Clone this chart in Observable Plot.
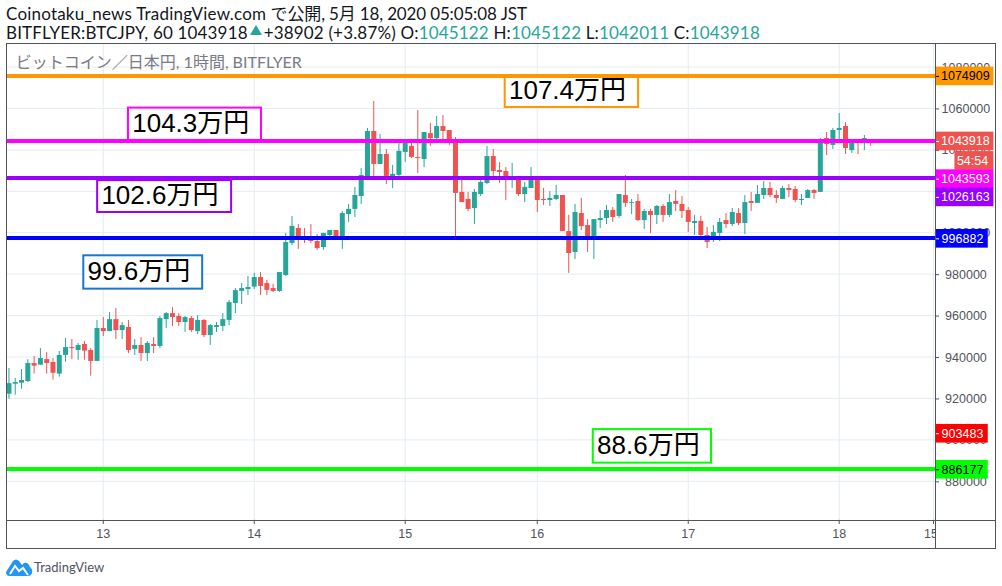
<!DOCTYPE html>
<html lang="ja"><head><meta charset="utf-8">
<script src="https://cdn.jsdelivr.net/npm/d3@7"></script>
<script src="https://cdn.jsdelivr.net/npm/@observablehq/plot@0.6"></script>
<style>
html,body{margin:0;padding:0;background:#fff;width:1002px;height:586px;overflow:hidden}
body{position:relative;font-family:Lato,"Noto Sans CJK JP",sans-serif;color:#131722}
#head{position:absolute;left:6px;top:0;height:43px;font-size:17px;line-height:19px;padding-top:4px;white-space:nowrap;box-sizing:border-box}
#head .v{color:#26a69a}
#head .l2{letter-spacing:.17px}
#head .tri{display:inline-block;width:0;height:0;border-left:6px solid transparent;border-right:6px solid transparent;border-bottom:10px solid #26a69a;margin:0 2px 4px 2px}
#chart{position:absolute;left:0;top:43px}
.chrome{position:absolute;background:#50535e}
#foot{position:absolute;left:6px;top:558px;display:flex;align-items:center;font-size:13px;color:#50535e;font-family:Lato,"Liberation Sans",sans-serif}
</style></head><body>
<div id="head"></div>
<div id="chart"></div>
<div class="chrome" style="left:6px;top:43px;width:990px;height:1px"></div>
<div class="chrome" style="left:6px;top:548px;width:990px;height:1px"></div>
<div class="chrome" style="left:6px;top:43px;width:1px;height:506px"></div>
<div class="chrome" style="left:995px;top:43px;width:1px;height:506px"></div>
<div class="chrome" style="left:935px;top:43px;width:1px;height:506px"></div>
<div class="chrome" style="left:6px;top:520px;width:990px;height:1px"></div>
<div id="foot"><svg width="27" height="18" viewBox="0 0 27 18" style="margin-right:1px"><path d="M0 14 L7 3 Q10 0 13 3 L16 7 Q18 4 21 5 Q23 6 24 9 Q27 11 26 15 Q25 18 22 18 L4 18 Q0 18 0 14 Z" fill="#2196f3"/><path d="M4 16 L9 8 L13 13 L17 10 L22 17" fill="none" stroke="#fff" stroke-width="2"/></svg><span id="brand"></span></div>
<script>
const publisherText = "Coinotaku_news TradingView.com";
const publishedText = "で公開, 5月 18, 2020 05:05:08 JST";
const symbolText = "BITFLYER:BTCJPY, 60 1043918";
const changeText = "+38902 (+3.87%)";
const ohlcLast = [["O:","1045122"],["H:","1045122"],["L:","1042011"],["C:","1043918"]];
const paneTitle = "ビットコイン／日本円, 1時間, BITFLYER";
const brandText = "TradingView";

const firstBar = -15;
// prices in thousands of yen, one per hourly bar
const highs = [934.7,929.9,934.2,939.0,940.5,944.3,942.4,939.5,942.9,949.2,948.7,946.8,947.7,944.3,957.9,
959.3,961.7,963.6,956.9,957.9,948.7,949.6,947.7,949.6,959.8,961.7,964.1,961.2,959.8,959.8,960.3,958.3,955.9,956.9,961.2,967.5,973.3,975.7,979.1,980.6,981.0,977.2,975.3,981.0,999.9,
1008.1,1004.2,1002.3,1004.2,999.4,999.9,1001.3,1001.3,1010.5,1013.9,1022.1,1031.2,1050.6,1063.6,1047.7,1040.4,1032.7,1044.8,1045.1,1044.8,1059.2,1048.6,1053.0,1056.4,1056.8,1049.6,1046.2,1025.5,1019.7,1021.1,1025.9,1041.9,1040.4,1034.1,1031.7,1033.7,1027.4,
1024.5,1031.7,1026.6,1021.6,1020.1,1023.0,1018.2,1008.6,1013.9,1016.8,1006.6,1006.6,1011.0,1013.4,1012.4,1018.7,1027.9,1016.3,1018.7,1011.5,1011.5,1013.4,1013.9,1018.7,1020.6,1017.7,1012.4,1008.6,1008.1,1002.8,1003.7,1007.1,1009.5,1011.9,1011.9,1018.2,1019.7,1023.0,1025.0,1024.5,1020.6,1022.6,1023.5,1022.6,1018.7,1021.1,1021.1,1045.7,1048.6,1050.6,1057.8,1053.4,1043.3,1043.8,1047.2,1045.1];
const lows = [919.9,921.8,924.7,927.9,932.0,936.1,932.0,929.1,930.5,937.7,939.0,938.7,938.7,931.0,938.1,
950.1,952.5,948.7,948.7,941.9,941.0,938.1,938.1,941.9,944.2,954.0,955.0,955.0,952.1,952.1,951.1,949.6,945.8,952.1,952.5,955.4,961.2,965.6,969.9,972.8,969.9,969.9,971.4,971.4,979.1,
994.1,992.2,995.0,995.0,991.7,991.7,997.5,997.5,992.2,1005.2,1007.6,1013.9,1026.4,1027.1,1033.2,1023.5,1021.6,1027.4,1034.2,1036.1,1028.8,1031.7,1041.9,1045.2,1044.8,1042.3,998.4,1014.8,1010.5,1004.2,1017.7,1023.5,1027.4,1024.0,1015.8,1021.6,1017.7,
1014.8,1021.6,1010.0,1013.4,1012.9,1015.8,1000.8,980.6,987.3,1001.3,990.7,987.3,1002.3,1004.2,1005.2,1007.1,1012.4,1009.0,1005.7,1001.8,999.9,1004.2,1005.2,1007.6,1010.5,1007.1,1000.4,998.9,998.4,992.6,995.5,996.0,1002.3,1003.2,1003.7,999.4,1010.5,1014.4,1016.3,1017.2,1014.4,1016.3,1017.2,1014.8,1013.4,1016.8,1016.3,1019.7,1037.5,1040.4,1044.8,1038.0,1038.5,1038.0,1039.9,1042.0];
const opens = [922.3,927.1,927.6,928.4,937.1,936.3,939.0,937.6,932.0,941.0,944.8,943.4,946.3,943.4,938.1,
954.0,952.5,958.3,953.0,954.5,943.9,945.8,941.9,946.3,945.3,958.3,961.2,959.8,956.9,958.8,952.5,957.9,950.6,954.5,955.0,957.9,966.1,971.9,972.8,974.0,978.6,975.7,973.3,971.9,979.6,
995.0,1002.3,997.9,996.5,996.0,993.1,998.9,1001.3,997.5,1009.0,1011.5,1017.7,1026.4,1049.1,1033.2,1038.0,1027.4,1027.9,1039.0,1041.9,1036.6,1035.6,1048.1,1045.7,1051.5,1049.6,1044.8,1019.7,1016.3,1011.9,1018.7,1024.0,1037.0,1030.3,1029.8,1026.4,1025.5,
1018.7,1021.6,1025.8,1016.3,1015.8,1016.3,1018.2,1000.8,990.7,1009.5,1003.7,998.4,1006.1,1007.1,1011.0,1008.1,1018.2,1014.4,1015.3,1006.1,1010.5,1008.6,1012.9,1008.6,1015.3,1013.9,1011.0,1004.7,1005.7,998.9,998.4,999.9,1006.1,1004.2,1009.5,1004.7,1015.3,1014.4,1018.2,1021.6,1018.2,1016.3,1021.6,1021.1,1015.8,1016.8,1020.6,1019.7,1045.7,1042.4,1049.6,1051.5,1039.9,1043.5,1044.8,1045.1];
const closes = [927.4,927.9,928.9,937.1,935.8,939.5,937.1,932.4,941.0,944.8,944.3,945.8,943.1,938.1,954.0,
952.5,958.3,953.0,955.4,943.4,945.8,941.9,946.8,945.3,958.8,961.2,959.3,956.9,959.3,953.0,957.9,950.6,955.4,955.4,958.3,966.5,972.3,973.3,973.8,978.6,974.3,972.4,971.9,981.0,995.5,
1003.3,998.4,997.5,996.0,992.6,999.9,1001.3,998.4,1009.5,1011.5,1018.2,1027.9,1049.1,1033.2,1038.0,1027.4,1028.4,1039.5,1044.8,1036.6,1036.1,1048.6,1045.7,1051.5,1049.1,1044.3,1019.2,1014.8,1011.5,1019.7,1024.5,1037.0,1029.8,1029.3,1027.4,1027.4,1018.7,
1022.1,1026.3,1015.8,1015.8,1016.8,1018.2,1000.8,990.2,1010.0,1003.2,998.4,1006.6,1007.1,1011.0,1007.6,1018.7,1014.4,1014.8,1006.1,1010.5,1008.6,1012.9,1008.6,1014.8,1013.9,1010.5,1005.2,1005.7,998.9,995.5,1000.4,1005.2,1004.2,1010.0,1004.7,1014.8,1014.4,1018.7,1021.6,1018.2,1016.8,1021.6,1020.6,1015.8,1016.3,1020.6,1019.2,1044.8,1042.8,1049.6,1050.6,1040.9,1043.3,1043.3,1045.7,1043.9];

const levelValues = [1075700, 1044300, 1026400, 997500, 885900];
const levelColors = ["#ff9800", "#ff00ff", "#9900ff", "#0000ff", "#00ff00"];

const noteTexts  = ["107.4万円", "104.3万円", "102.6万円", "99.6万円", "88.6万円"];
const noteColors = ["#ff9800", "#ff00ff", "#9900ff", "#1976d2", "#00ff00"];
const noteFrom   = [63.9, 4.0, -0.9, -3.1, 77.9];
const noteTo     = [85.1, 25.15, 20.4, 15.8, 96.7];
const noteTop    = [1075.7, 1060.4, 1025.4, 989.1, 905.2];
const noteBottom = [1060.7, 1044.8, 1010.0, 973.0, 889.0];

const priceTicks = [880000,900000,920000,940000,960000,980000,1000000,1020000,1040000,1060000,1080000];
const timeTicks  = [0,24,48,69,93,117];
const timeLabels = ["13","14","15","16","17","18"];
const boldLabel  = "18";
const extraTick  = 132;
const extraLabel = "15:00";
const extraLabelStart = 130.5;

const tagTexts  = ["1074909","1043918","54:54","1043593","1026163","996882","903483","886177"];
const tagFills  = ["#ff9800","#ef5350","#ef5350","#ff00ff","#9900ff","#0000ff","#ff0000","#00ff00"];
const tagInks   = ["#000","#fff","#fff","#fff","#fff","#fff","#fff","#000"];
const tagCenter = [1075.7,1044.3,1034.9,1026.1,1017.3,997.3,903.2,885.8];
const tagFrom   = [132.3,132.3,135.4,132.3,132.3,132.3,132.3,132.3];
const tagTo     = [141.6,141.6,141.6,141.6,141.6,140.7,140.7,140.7];

const candles = opens.map((o,k)=>({i:firstBar+k,open:o*1e3,close:closes[k]*1e3,high:highs[k]*1e3,low:lows[k]*1e3,
  color:closes[k]>=o?"#26a69a":"#ef5350"}));
const levels = levelValues.map((v,k)=>({v,c:levelColors[k]}));
const notes = noteTexts.map((t,k)=>({t,c:noteColors[k],x1:noteFrom[k],x2:noteTo[k],y1:noteTop[k]*1e3,y2:noteBottom[k]*1e3}));
const tags = tagTexts.map((t,k)=>({t,fill:tagFills[k],ink:tagInks[k],y:tagCenter[k]*1e3,x1:tagFrom[k],x2:tagTo[k]}));
const times = timeTicks.map((t,k)=>({t,label:timeLabels[k]}));
const allTimeTicks = timeTicks.concat(extraTick);
const font = 'Lato,"Noto Sans CJK JP",sans-serif';
const noteFont = '"Liberation Sans","Noto Sans CJK JP",sans-serif';
const narrow = '"Liberation Sans Narrow","Liberation Sans",sans-serif';
const tagHalf = 4500;
const axisInk = "#50535e";

const head = document.getElementById("head");
head.innerHTML = `<div><span style="letter-spacing:.2px">${publisherText}</span> <span style="letter-spacing:-.15px">${publishedText}</span></div><div class="l2">${symbolText}<span class="tri"></span>${changeText} `+
  ohlcLast.map(([k,v])=>`${k}<span class="v">${v}</span>`).join(" ")+`</div>`;
document.getElementById("brand").textContent = brandText;

const chart = Plot.plot({
  width:1002, height:510,
  marginLeft:7, marginRight:67, marginTop:0, marginBottom:33,
  style:{background:"#fff",fontFamily:font},
  x:{type:"linear",domain:[0,117],range:[102.8,838.7],axis:null},
  y:{type:"linear",domain:[880000,1080000],range:[438.3,24],axis:null},
  marks:[
    Plot.ruleY(priceTicks,{stroke:"#e3ecf3",strokeWidth:1,dy:-0.5}),
    Plot.ruleX(allTimeTicks,{stroke:"#e3ecf3",strokeWidth:1}),
    Plot.text([paneTitle],{x:()=>-13.9,y:()=>1082400,text:d=>d,textAnchor:"start",fontSize:16,fill:"#787b86",fontFamily:font}),
    Plot.ruleX(candles,{x:"i",y1:"low",y2:"high",stroke:"color",strokeWidth:1}),
    Plot.ruleX(candles,{x:"i",y1:"open",y2:"close",stroke:"color",strokeWidth:5}),
    Plot.rect(notes,{x1:"x1",x2:"x2",y1:"y1",y2:"y2",fill:"#fff",stroke:"c",strokeWidth:2}),
    Plot.text(notes,{x:d=>d.x1+0.6,y:d=>(d.y1+d.y2)/2,dy:-1,text:"t",textAnchor:"start",fontSize:26,fill:"#000",fontFamily:noteFont}),
    Plot.ruleY(levels,{y:"v",stroke:"c",strokeWidth:4,dy:-0.5}),
    // price scale: tick marks and labels
    Plot.ruleY(priceTicks,{x1:()=>132.3,x2:()=>132.95,stroke:axisInk}),
    Plot.text(priceTicks,{x:()=>137.15,y:d=>d,text:d=>String(d),fontSize:12.5,fill:axisInk,fontFamily:narrow}),
    // time scale: tick marks and labels
    Plot.ruleX(allTimeTicks,{y1:()=>861400,y2:()=>859400,stroke:axisInk}),
    Plot.text(times,{x:"t",y:()=>854600,text:"label",fontSize:12.5,fill:axisInk,fontFamily:narrow,
      fontWeight:d=>d.label===boldLabel?"bold":"normal"}),
    Plot.text([extraLabel],{x:()=>extraLabelStart,y:()=>854600,text:d=>d,textAnchor:"start",fontSize:12.5,fill:axisInk,fontFamily:narrow}),
    Plot.rect([0],{x1:()=>132.4,x2:()=>141.6,y1:()=>860500,y2:()=>848000,fill:"#fff"}),
    // last-value tags
    Plot.rect(tags,{x1:"x1",x2:"x2",y1:d=>d.y-tagHalf,y2:d=>d.y+tagHalf,fill:"fill"}),
    Plot.ruleY(tags.filter(d=>d.x1<133),{y:"y",x1:"x1",x2:d=>d.x1+0.65,stroke:"ink"}),
    Plot.text(tags,{x:d=>(d.x1+d.x2)/2+(d.x1<133?0.1:-0.3),y:"y",text:"t",fill:"ink",fontSize:12.5,fontFamily:narrow})
  ]
});
document.getElementById("chart").appendChild(chart);
</script>
</body></html>
